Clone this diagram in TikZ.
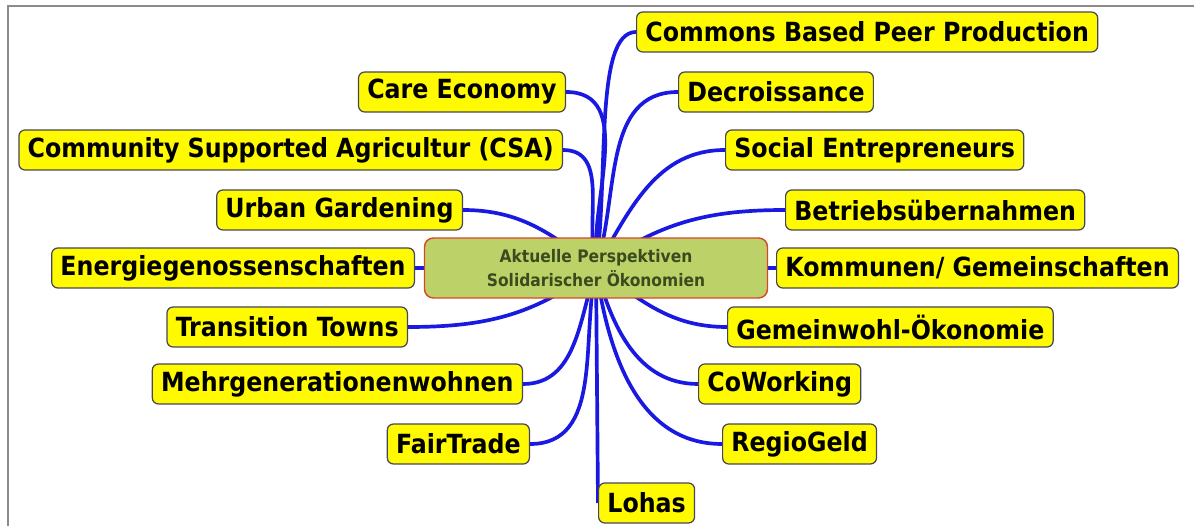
\documentclass[tikz,border=0pt]{standalone}
\usepackage{fontspec}
\setmainfont{DejaVu Sans Condensed}
\usetikzlibrary{positioning,backgrounds}
\definecolor{topicfill}{RGB}{255,250,0}
\definecolor{topicline}{RGB}{70,70,90}
\definecolor{branchblue}{RGB}{25,25,225}
\definecolor{corefill}{RGB}{188,210,105}
\definecolor{coreline}{RGB}{215,70,40}
\definecolor{coretext}{RGB}{60,75,30}
\tikzset{
  topic/.style={draw=topicline,fill=topicfill,rounded corners=3.5pt,line width=0.7pt,
    minimum height=0.8cm,inner xsep=5pt,font=\bfseries\fontsize{15}{17}\selectfont},
  core/.style={draw=coreline,fill=corefill,rounded corners=5pt,line width=0.8pt,
    minimum width=6.86cm,minimum height=1.2cm,align=center,text=coretext,
    font=\bfseries\fontsize{9.8}{13.5}\selectfont},
  branch/.style={draw=branchblue,line width=2.1pt},
  frame/.style={draw=black!45,line width=1.2pt}
}
\begin{document}
\begin{tikzpicture}[x=0.02cm,y=0.02cm]
\useasboundingbox (0,0) rectangle (1194,-526);
\draw[frame] (8,-526) -- (8,-6) -- (1194,-6);

\node[core] (core) at (596,-268) {Aktuelle Perspektiven\\Solidarischer Ökonomien};

% right hand side
\node[topic,anchor=west] (cbpp) at (636,-32) {Commons Based Peer Production};
\node[topic,anchor=west] (decro) at (678,-92) {Decroissance};
\node[topic,anchor=west] (social) at (725,-150) {Social Entrepreneurs};
\node[topic,anchor=west] (betrieb) at (785,-210) {Betriebsübernahmen};
\node[topic,anchor=west] (kommunen) at (776,-268) {Kommunen/ Gemeinschaften};
\node[topic,anchor=west] (gemeinwohl) at (727,-327) {Gemeinwohl-Ökonomie};
\node[topic,anchor=west] (coworking) at (698,-384) {CoWorking};
\node[topic,anchor=west] (regio) at (722,-444) {RegioGeld};
\node[topic,anchor=west] (lohas) at (598,-503) {Lohas};

% left hand side
\node[topic,anchor=east] (care) at (566,-92) {Care Economy};
\node[topic,anchor=east] (csa) at (563,-150) {Community Supported Agricultur (CSA)};
\node[topic,anchor=east] (urban) at (463,-210) {Urban Gardening};
\node[topic,anchor=east] (energie) at (415,-268) {Energiegenossenschaften};
\node[topic,anchor=east] (transition) at (408,-327) {Transition Towns};
\node[topic,anchor=east] (mehrgen) at (523,-384) {Mehrgenerationenwohnen};
\node[topic,anchor=east] (fair) at (530,-444) {FairTrade};

\begin{scope}[on background layer]
  \draw[branch] (core.center) to[out=82,in=180,in looseness=0.45] (cbpp.west);
  \draw[branch] (core.center) to[out=72,in=180] (decro.west);
  \draw[branch] (core.center) to[out=60,in=180] (social.west);
  \draw[branch] (core.center) to[out=36,in=180] (betrieb.west);
  \draw[branch] (core.center) -- (kommunen.west);
  \draw[branch] (core.center) to[out=-36,in=180] (gemeinwohl.west);
  \draw[branch] (core.center) to[out=-75,in=180] (coworking.west);
  \draw[branch] (core.center) to[out=-82,in=180] (regio.west);
  \draw[branch] (core.center) -- (lohas.west);
  \draw[branch] (core.center) to[out=95,in=0] (care.east);
  \draw[branch] (core.center) to[out=105,in=0] (csa.east);
  \draw[branch] (core.center) to[out=142,in=0] (urban.east);
  \draw[branch] (core.center) -- (energie.east);
  \draw[branch] (core.center) to[out=218,in=0] (transition.east);
  \draw[branch] (core.center) to[out=252,in=0] (mehrgen.east);
  \draw[branch] (core.center) to[out=258,in=0] (fair.east);
\end{scope}
\end{tikzpicture}
\end{document}
